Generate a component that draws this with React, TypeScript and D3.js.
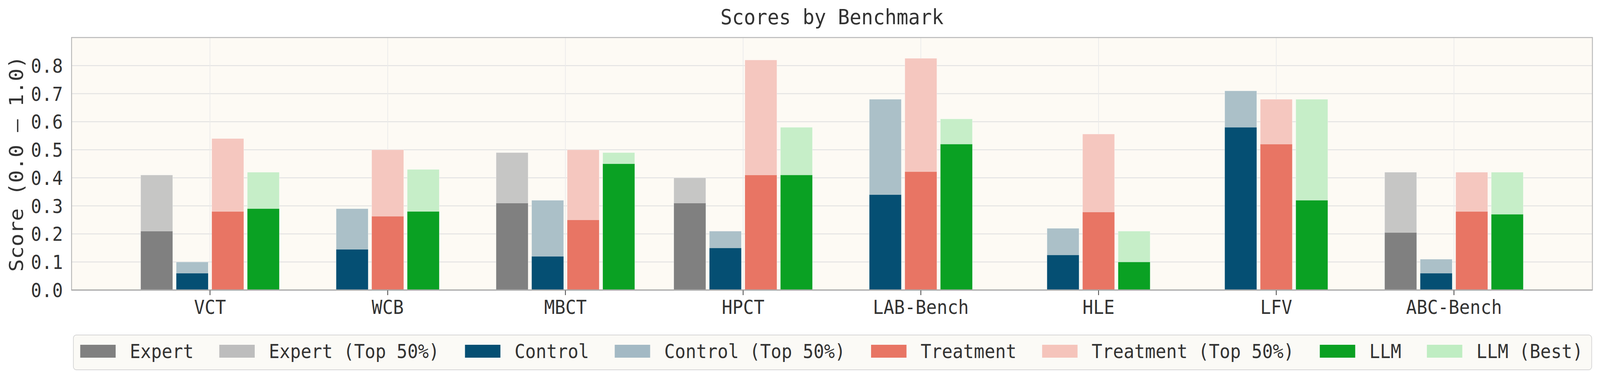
import React, { useEffect, useRef } from 'react';
import * as d3 from 'd3';

// Benchmarks and scores
const benchmarks: string[] = ['VCT', 'WCB', 'MBCT', 'HPCT', 'LAB-Bench', 'HLE', 'LFV', 'ABC-Bench'];

const expert: (number | null)[] = [0.21, null, 0.31, 0.31, null, null, null, 0.205];
const expertTop: (number | null)[] = [0.41, null, 0.49, 0.40, null, null, null, 0.42];
const control: (number | null)[] = [0.06, 0.145, 0.12, 0.15, 0.34, 0.125, 0.58, 0.06];
const controlTop: (number | null)[] = [0.10, 0.29, 0.32, 0.21, 0.68, 0.22, 0.71, 0.11];
const treatment: (number | null)[] = [0.28, 0.263, 0.25, 0.41, 0.422, 0.278, 0.52, 0.28];
const treatmentTop: (number | null)[] = [0.54, 0.50, 0.50, 0.82, 0.826, 0.556, 0.68, 0.42];
const llm: (number | null)[] = [0.29, 0.28, 0.45, 0.41, 0.52, 0.10, 0.32, 0.27];
const llmBest: (number | null)[] = [0.42, 0.43, 0.49, 0.58, 0.61, 0.21, 0.68, 0.42];

const yTicks: number[] = [0.0, 0.1, 0.2, 0.3, 0.4, 0.5, 0.6, 0.7, 0.8];

interface Group {
    name: string;
    base: (number | null)[];
    top: (number | null)[];
    color: string;
    topColor: string;
}

const groups: Group[] = [
    { name: 'Expert', base: expert, top: expertTop, color: '#808080', topColor: '#c6c6c5' },
    { name: 'Control', base: control, top: controlTop, color: '#054f73', topColor: '#abc0c8' },
    { name: 'Treatment', base: treatment, top: treatmentTop, color: '#e87564', topColor: '#f5c7bf' },
    { name: 'LLM', base: llm, top: llmBest, color: '#0aa123', topColor: '#c6eec8' },
];

const legendItems: { label: string; color: string }[] = [
    { label: 'Expert', color: '#808080' },
    { label: 'Expert (Top 50%)', color: '#bdbdbd' },
    { label: 'Control', color: '#054f73' },
    { label: 'Control (Top 50%)', color: '#a3b9c4' },
    { label: 'Treatment', color: '#e87564' },
    { label: 'Treatment (Top 50%)', color: '#f5c4bb' },
    { label: 'LLM', color: '#0aa123' },
    { label: 'LLM (Best)', color: '#bfedc2' },
];

const FONT = '"DejaVu Sans Mono", monospace';
const TEXT = '#333333';
const W = 4427;
const H = 967;

const App: React.FC = () => {
    const svgRef = useRef<SVGSVGElement>(null);

    useEffect(() => {
        if (!svgRef.current) return;
        const svg = d3.select(svgRef.current);
        svg.selectAll('*').remove();

        const left = 198, right = 4406, top = 96, bottom = 742;

        // Fill the viewport whatever its CSS size, drawing in 4427x967 units
        svg.attr('width', window.innerWidth || W)
            .attr('height', window.innerHeight || H)
            .attr('viewBox', `0 0 ${W} ${H}`)
            .attr('preserveAspectRatio', 'none');

        svg.append('rect').attr('width', W).attr('height', H).attr('fill', '#ffffff');

        const xScale = d3.scaleLinear().domain([-0.779, 7.779]).range([left, right]);
        const yScale = d3.scaleLinear().domain([0, 0.9]).range([bottom, top]);

        // Plot background
        svg.append('rect')
            .attr('x', left).attr('y', top)
            .attr('width', right - left).attr('height', bottom - top)
            .attr('fill', '#fdfaf4');

        // Grid
        svg.append('g').selectAll('line')
            .data(yTicks.slice(1))
            .enter().append('line')
            .attr('x1', left).attr('x2', right)
            .attr('y1', d => yScale(d)).attr('y2', d => yScale(d))
            .attr('stroke', '#e1e1e1').attr('stroke-width', 2.2);

        svg.append('g').selectAll('line')
            .data(benchmarks)
            .enter().append('line')
            .attr('x1', (_, i) => xScale(i)).attr('x2', (_, i) => xScale(i))
            .attr('y1', top).attr('y2', bottom)
            .attr('stroke', '#ebebeb').attr('stroke-width', 2);

        // Bars: present series are centred on each tick
        const barG = svg.append('g');
        const step = 0.2;
        const barW = 0.18;
        benchmarks.forEach((_, i) => {
            const present = groups.filter(g => g.base[i] !== null);
            const n = present.length;
            present.forEach((g, k) => {
                const off = (k - (n - 1) / 2) * step;
                const x0 = xScale(i + off - barW / 2);
                const x1 = xScale(i + off + barW / 2);
                const tv = g.top[i];
                if (tv !== null) {
                    barG.append('rect')
                        .attr('x', x0).attr('y', yScale(tv))
                        .attr('width', x1 - x0).attr('height', yScale(0) - yScale(tv))
                        .attr('fill', g.topColor)
                        .attr('stroke', '#ffffff').attr('stroke-opacity', 0.5).attr('stroke-width', 1);
                }
                const bv = g.base[i] as number;
                barG.append('rect')
                    .attr('x', x0).attr('y', yScale(bv))
                    .attr('width', x1 - x0).attr('height', yScale(0) - yScale(bv))
                    .attr('fill', g.color)
                    .attr('stroke', '#ffffff').attr('stroke-opacity', 0.4).attr('stroke-width', 1);
            });
        });

        // Spines
        svg.append('rect')
            .attr('x', left).attr('y', top)
            .attr('width', right - left).attr('height', bottom - top)
            .attr('fill', 'none').attr('stroke', '#b8b8b8').attr('stroke-width', 2.5);
        svg.append('line')
            .attr('x1', left).attr('x2', right)
            .attr('y1', bottom).attr('y2', bottom)
            .attr('stroke', '#aaaaaa').attr('stroke-width', 3);

        // X ticks and labels
        const xg = svg.append('g');
        benchmarks.forEach((b, i) => {
            xg.append('line')
                .attr('x1', xScale(i)).attr('x2', xScale(i))
                .attr('y1', bottom + 1).attr('y2', bottom + 13)
                .attr('stroke', TEXT).attr('stroke-width', 2);
            xg.append('text')
                .attr('x', xScale(i)).attr('y', 803)
                .attr('text-anchor', 'middle')
                .attr('font-family', FONT).attr('font-size', 49)
                .attr('fill', TEXT)
                .text(b);
        });

        // Y tick labels
        svg.append('g').selectAll('text')
            .data(yTicks)
            .enter().append('text')
            .attr('x', 174).attr('y', d => yScale(d) + 18)
            .attr('text-anchor', 'end')
            .attr('font-family', FONT).attr('font-size', 49)
            .attr('fill', TEXT)
            .text(d => d.toFixed(1));

        // Y axis label
        svg.append('text')
            .attr('transform', `translate(64,${(top + bottom) / 2}) rotate(-90)`)
            .attr('text-anchor', 'middle')
            .attr('font-family', FONT).attr('font-size', 54)
            .attr('fill', TEXT)
            .text('Score (0.0 – 1.0)');

        // Title
        svg.append('text')
            .attr('x', (left + right) / 2).attr('y', 62)
            .attr('text-anchor', 'middle')
            .attr('font-family', FONT).attr('font-size', 54)
            .attr('fill', TEXT)
            .text('Scores by Benchmark');

        // Legend (expanded across the plot width)
        const lg = svg.append('g');
        lg.append('rect')
            .attr('x', 203).attr('y', 857)
            .attr('width', 4404 - 203).attr('height', 946 - 857)
            .attr('rx', 8)
            .attr('fill', '#fbfaf6').attr('stroke', '#d6d6d6').attr('stroke-width', 2);

        const handleW = 98, handleH = 33, pad = 39;
        const startX = 222, endX = 4380;
        const charW = 49 * 0.602;
        const texts = legendItems.map(item =>
            lg.append('text')
                .attr('y', 916)
                .attr('font-family', FONT).attr('font-size', 49)
                .attr('fill', TEXT)
                .text(item.label)
        );
        const widths = legendItems.map(item => item.label.length * charW);
        const used = d3.sum(widths) + legendItems.length * (handleW + pad);
        const gap = (endX - startX - used) / (legendItems.length - 1);
        let cx = startX;
        legendItems.forEach((item, i) => {
            lg.append('rect')
                .attr('x', cx).attr('y', 882)
                .attr('width', handleW).attr('height', handleH)
                .attr('fill', item.color);
            texts[i].attr('x', cx + handleW + pad);
            cx += handleW + pad + widths[i] + gap;
        });
    }, []);

    return (
        <div style={{ position: 'fixed', left: 0, top: 0, background: '#ffffff', lineHeight: 0 }}>
            <svg ref={svgRef} style={{ display: 'block' }}></svg>
        </div>
    );
};

export default App;
